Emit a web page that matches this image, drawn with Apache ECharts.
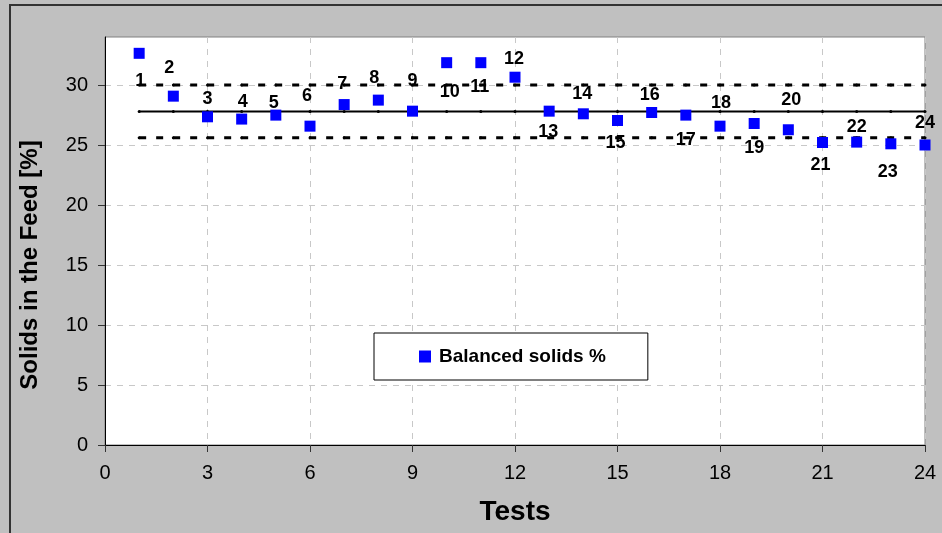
<!DOCTYPE html>
<html>
<head>
<meta charset="utf-8">
<title>Solids in the Feed</title>
<script src="https://cdn.jsdelivr.net/npm/echarts@6/dist/echarts.min.js"></script>
<style>
  html, body { margin: 0; padding: 0; background: #c0c0c0; }
  #chart { width: 942px; height: 533px; }
</style>
</head>
<body>
<div id="chart"></div>
<script>
// Test numbers and the balanced solids content measured in each test
const tests = [1, 2, 3, 4, 5, 6, 7, 8, 9, 10, 11, 12, 13, 14, 15, 16, 17, 18, 19, 20, 21, 22, 23, 24];
const balancedSolids = [32.64, 29.07, 27.35, 27.16, 27.49, 26.57, 28.37, 28.74, 27.82, 31.86, 31.86, 30.65,
                        27.82, 27.60, 27.04, 27.71, 27.49, 26.57, 26.79, 26.27, 25.21, 25.24, 25.10, 25.00];

// Reference levels: average and upper / lower band
const meanLevel = 27.8;
const upperLevel = 30.0;
const lowerLevel = 25.6;

// Axis tick values
const xTicks = [0, 3, 6, 9, 12, 15, 18, 21, 24];
const yTicks = [0, 5, 10, 15, 20, 25, 30];

// Placement of each test-number label relative to its marker (px)
const labelOffsets = [
  [1, 28], [-4, -28], [0, -18], [1, -17], [-2, -12], [-3, -30], [-2, -21], [-4, -22],
  [0, -30], [3, 29], [-1, 24], [-1, -18], [-1, 21], [-1, -20], [-2, 23], [-2, -17],
  [0, 25], [1, -23], [0, 25], [3, -30], [-2, 23], [0, -15], [-3, 28], [0, -22]
];

const FONT = "'Liberation Sans', Arial, Helvetica, sans-serif";

const chart = echarts.init(document.getElementById('chart'));

const levelSeries = (name, level, style) => ({
  name: name,
  type: 'line',
  data: tests.map(t => [t, level]),
  symbol: 'circle',
  symbolSize: 3,
  itemStyle: { color: '#000' },
  lineStyle: style,
  z: 2,
  silent: true,
  animation: false
});

chart.setOption({
  backgroundColor: '#c0c0c0',
  animation: false,
  textStyle: { fontFamily: FONT },
  graphic: [
    {
      type: 'rect',
      z: -10,
      shape: { x: 10, y: 5, width: 1000, height: 600 },
      style: { fill: 'none', stroke: '#333', lineWidth: 2 }
    },
    {
      type: 'text',
      x: 30,
      y: 265,
      rotation: Math.PI / 2,
      style: {
        text: 'Solids in the Feed [%]',
        font: 'bold 24px ' + FONT,
        fill: '#000',
        align: 'center',
        verticalAlign: 'middle'
      }
    }
  ],
  grid: {
    left: 105, right: 17, top: 37, bottom: 88,
    show: true,
    backgroundColor: '#fff',
    borderColor: '#808080',
    borderWidth: 1
  },
  legend: {
    data: ['Balanced solids %'],
    left: 374,
    top: 333,
    icon: 'rect',
    itemWidth: 12,
    itemHeight: 12,
    backgroundColor: '#fff',
    borderColor: '#000',
    borderWidth: 1,
    borderRadius: 0,
    padding: [14, 42, 14, 45],
    textStyle: { fontFamily: FONT, fontSize: 19, fontWeight: 'bold', color: '#000', padding: [0, 0, 0, 3] }
  },
  xAxis: {
    type: 'value',
    min: 0,
    max: 24,
    interval: 3,
    name: 'Tests',
    nameLocation: 'middle',
    nameGap: 53,
    nameTextStyle: { fontFamily: FONT, fontSize: 28, fontWeight: 'bold', color: '#000' },
    axisLine: { lineStyle: { color: '#000', width: 1 } },
    axisTick: { show: true, inside: false, length: 7, lineStyle: { color: '#333' } },
    axisLabel: {
      customValues: xTicks,
      margin: 18,
      fontFamily: FONT, fontSize: 20, color: '#000'
    },
    splitLine: { show: true, lineStyle: { color: '#c8c8c8', type: [6, 6], width: 1 } }
  },
  yAxis: {
    type: 'value',
    min: 0,
    max: 34,
    interval: 5,
    axisLine: { show: true, lineStyle: { color: '#000', width: 1 } },
    axisTick: { show: true, inside: false, length: 7, customValues: yTicks, lineStyle: { color: '#333' } },
    axisLabel: {
      customValues: yTicks,
      margin: 17,
      fontFamily: FONT, fontSize: 20, color: '#000'
    },
    splitLine: { show: true, lineStyle: { color: '#c8c8c8', type: [6, 6], width: 1 } }
  },
  series: [
    levelSeries('Average', meanLevel, { color: '#000', width: 2, type: 'solid' }),
    levelSeries('Upper', upperLevel, { color: '#000', width: 3, type: [7, 10] }),
    levelSeries('Lower', lowerLevel, { color: '#000', width: 3, type: [7, 10] }),
    {
      name: 'Balanced solids %',
      type: 'scatter',
      symbol: 'rect',
      symbolSize: 11,
      itemStyle: { color: '#0000ff', opacity: 1 },
      z: 3,
      data: balancedSolids.map((v, i) => ({
        value: [tests[i], v],
        label: { offset: labelOffsets[i] }
      })),
      label: {
        show: true,
        position: 'inside',
        formatter: p => String(tests[p.dataIndex]),
        fontFamily: FONT,
        fontSize: 18,
        fontWeight: 'bold',
        color: '#000',
        textBorderWidth: 0,
        opacity: 1
      }
    }
  ]
});
</script>
</body>
</html>
